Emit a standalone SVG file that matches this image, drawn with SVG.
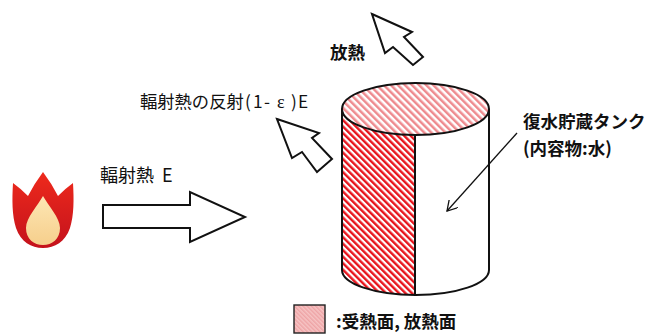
<svg xmlns="http://www.w3.org/2000/svg" width="646" height="336" viewBox="0 0 646 336">
  <style>
    .jp { font-family: "Noto Sans CJK JP", "Noto Sans", "Liberation Sans", sans-serif; fill: #111; }
    .b { font-weight: bold; }
    .outline { fill: none; stroke: #111; stroke-width: 2; }
    .arrow { fill: #fff; stroke: #111; stroke-width: 2; stroke-linejoin: miter; }
  </style>
  <defs>
    <!-- diagonal hatching for heat-receiving / heat-emitting surfaces -->
    <pattern id="hatchSide" patternUnits="userSpaceOnUse" width="4.6" height="10" patternTransform="rotate(-45)">
      <rect width="4.6" height="10" fill="#fff"/>
      <rect width="2.4" height="10" fill="#e8141c"/>
    </pattern>
    <pattern id="hatchTop" patternUnits="userSpaceOnUse" width="5" height="10" patternTransform="rotate(-45)">
      <rect width="5" height="10" fill="#fff"/>
      <rect width="2.5" height="10" fill="#ee8a8e"/>
    </pattern>
    <pattern id="hatchLegend" patternUnits="userSpaceOnUse" width="3" height="10" patternTransform="rotate(-45)">
      <rect width="3" height="10" fill="#f6c4c4"/>
      <rect width="1.5" height="10" fill="#eea4a6"/>
    </pattern>
    <linearGradient id="flameOuter" x1="0" y1="0" x2="0" y2="1">
      <stop offset="0" stop-color="#ee2a1c"/>
      <stop offset="1" stop-color="#c4121c"/>
    </linearGradient>
    <linearGradient id="flameInner" x1="0" y1="0" x2="0" y2="1">
      <stop offset="0" stop-color="#fde6b4"/>
      <stop offset="1" stop-color="#f6cf8c"/>
    </linearGradient>
    <marker id="openHead" markerWidth="12" markerHeight="12" refX="10" refY="6" orient="auto" markerUnits="userSpaceOnUse">
      <path d="M0,0 L10,6 L0,12" fill="none" stroke="#111" stroke-width="1.3"/>
    </marker>
  </defs>

  <!-- fire source -->
  <g id="fire">
    <path d="M43,172 Q52,184 58,196 Q66,188 73,183 C74,200 74,215 70,228 C65,242 55,248 43,248 C31,248 21,242 16,228 C12,215 12,200 13,183 Q20,188 28,196 Q34,184 43,172 Z" fill="url(#flameOuter)"/>
    <path d="M43,196 C48,205 60,218 60,228 C60,239 52,245 43,245 C34,245 26,239 26,228 C26,218 38,205 43,196 Z" fill="url(#flameInner)"/>
  </g>

  <!-- incoming radiation -->
  <g id="radiation">
    <polygon class="arrow" points="103,205 190,205 190,192 245,217 190,242 190,228 103,228" stroke-width="1.6"/>
    <text class="jp" x="100" y="182" font-size="18">輻射熱<tspan x="162">E</tspan></text>
  </g>

  <!-- reflected radiation -->
  <g id="reflection">
    <polygon class="arrow" points="277,119 319,133 312,138 332,159 317,172 302,152 292,158"/>
    <text class="jp" x="140" y="108" font-size="17.3">輻射熱の反射<tspan x="245">(</tspan><tspan x="253">1</tspan><tspan x="264">-</tspan><tspan x="277" font-family="Liberation Serif, serif" font-size="18">ε</tspan><tspan x="291">)</tspan><tspan x="298">E</tspan></text>
  </g>

  <!-- heat emission -->
  <g id="emission">
    <polygon class="arrow" points="372,14 412,32 404,37 423,57 413,65 393,47 385,53"/>
    <text class="jp b" x="330" y="59" font-size="17.5">放熱</text>
  </g>

  <!-- condensate storage tank -->
  <g id="tank">
    <path d="M342,109 L342,270 A74,25 0 0 0 489,270 L489,109 Z" fill="#fff"/>
    <path d="M342,109 A74,26 0 0 0 415,135 L415,295 A74,25 0 0 1 342,270 Z" fill="url(#hatchSide)"/>
    <ellipse cx="415.5" cy="109" rx="73.5" ry="26" fill="url(#hatchTop)"/>
    <ellipse class="outline" cx="415.5" cy="109" rx="73.5" ry="26"/>
    <path class="outline" d="M342,109 L342,270 A73.5,25 0 0 0 489,270 L489,109"/>
    <line class="outline" x1="415" y1="135" x2="415" y2="295"/>
    <text class="jp b" x="523" y="128" font-size="17.5">復水貯蔵タンク</text>
    <text class="jp b" x="523" y="155" font-size="17.5">(内容物:水)</text>
  </g>

  <!-- legend -->
  <g id="legend">
    <rect x="294" y="305" width="31" height="28" fill="url(#hatchLegend)" stroke="#222" stroke-width="1.4"/>
    <text class="jp b" x="336" y="328" font-size="17.5">:受熱面, 放熱面</text>
  </g>

  <g id="connectors">
    <line x1="517" y1="133" x2="447" y2="211" stroke="#111" stroke-width="1.3" marker-end="url(#openHead)"/>
  </g>
</svg>
